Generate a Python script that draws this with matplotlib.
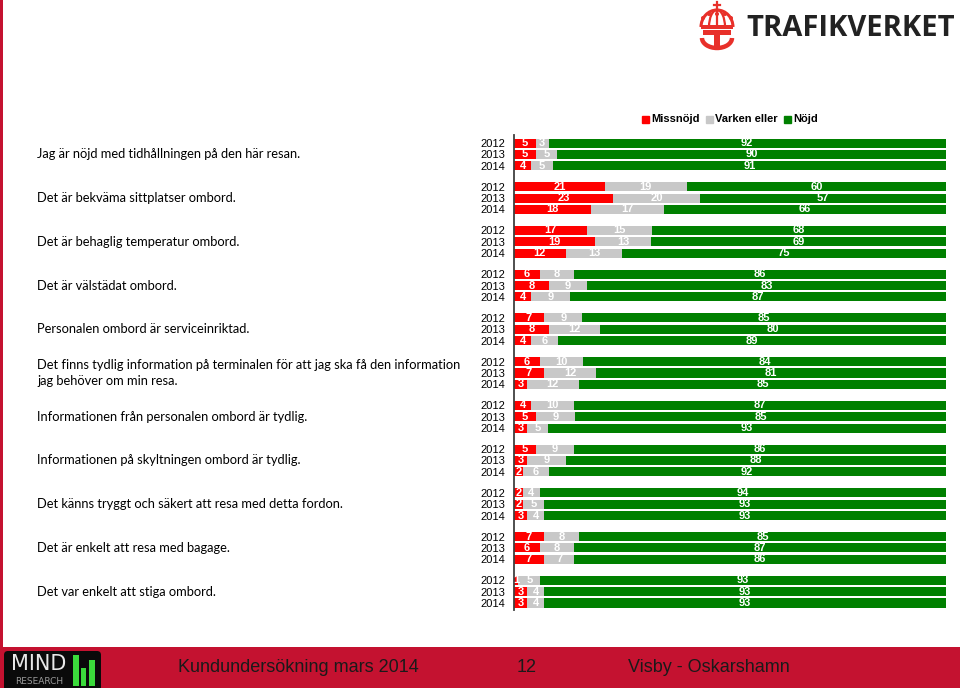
import matplotlib
matplotlib.use("Agg")
import matplotlib.pyplot as plt
import matplotlib.transforms as mtransforms
from matplotlib.patches import Rectangle, FancyBboxPatch, Arc, Circle

questions = [
    "Jag är nöjd med tidhållningen på den här resan.",
    "Det är bekväma sittplatser ombord.",
    "Det är behaglig temperatur ombord.",
    "Det är välstädat ombord.",
    "Personalen ombord är serviceinriktad.",
    "Det finns tydlig information på terminalen för att jag ska få den information\njag behöver om min resa.",
    "Informationen från personalen ombord är tydlig.",
    "Informationen på skyltningen ombord är tydlig.",
    "Det känns tryggt och säkert att resa med detta fordon.",
    "Det är enkelt att resa med bagage.",
    "Det var enkelt att stiga ombord.",
]
years = ["2012", "2013", "2014"]
series_names = ["Missnöjd", "Varken eller", "Nöjd"]
missnojd = [[5, 5, 4], [21, 23, 18], [17, 19, 12], [6, 8, 4], [7, 8, 4], [6, 7, 3],
            [4, 5, 3], [5, 3, 2], [2, 2, 3], [7, 6, 7], [1, 3, 3]]
varken = [[3, 5, 5], [19, 20, 17], [15, 13, 13], [8, 9, 9], [9, 12, 6], [10, 12, 12],
          [10, 9, 5], [9, 9, 6], [4, 5, 4], [8, 8, 7], [5, 4, 4]]
nojd = [[92, 90, 91], [60, 57, 66], [68, 69, 75], [86, 83, 87], [85, 80, 89], [84, 81, 85],
        [87, 85, 93], [86, 88, 92], [94, 93, 93], [85, 87, 86], [93, 93, 93]]

colors = ["#FF0000", "#C8C8C8", "#008000"]
CRIMSON = "#C41230"

W, H = 960, 688
fig = plt.figure(figsize=(W / 100, H / 100), dpi=100)

# ---- main bar axes ----
ax_left, ax_right, ax_top, ax_bot = 514, 946, 135, 610
ax = fig.add_axes([ax_left / W, 1 - ax_bot / H, (ax_right - ax_left) / W, (ax_bot - ax_top) / H])
GSTEP = 3.87
ypos, ylabels = [], []
for g in range(len(questions)):
    for j, yr in enumerate(years):
        y = g * GSTEP + j
        ypos.append(y)
        ylabels.append(yr)
        vals = [missnojd[g][j], varken[g][j], nojd[g][j]]
        tot = sum(vals)
        left = 0.0
        for v, c in zip(vals, colors):
            w = v / tot * 100
            ax.barh(y, w, left=left, height=0.8, color=c, edgecolor="none")
            ax.text(left + w / 2, y, str(v), ha="center", va="center", color="white",
                    fontsize=8, fontweight="bold", family="Liberation Sans")
            left += w

ax.set_xlim(0, 100)
ax.set_ylim(10 * GSTEP + 2 + 0.62, -0.71)
ax.set_yticks(ypos)
ax.set_yticklabels(ylabels, fontsize=8, family="Liberation Sans", color="black")
ax.tick_params(axis="y", length=0, pad=6)
ax.set_xticks([])
for s in ["top", "right", "bottom"]:
    ax.spines[s].set_visible(False)
ax.spines["left"].set_color("#404040")
ax.spines["left"].set_linewidth(1.3)

# question labels
trans = mtransforms.blended_transform_factory(fig.transFigure, ax.transData)
for g, q in enumerate(questions):
    ax.text(37 / W, g * GSTEP + 1.0, q, transform=trans, ha="left", va="center",
            fontsize=9.3, family="Lato", color="black", linespacing=1.45, clip_on=False)

# ---- overlay for decorations (pixel coordinates) ----
ov = fig.add_axes([0, 0, 1, 1], zorder=-1)
ov.set_xlim(0, W)
ov.set_ylim(H, 0)
ov.axis("off")

# legend
leg_items = [(642, 651), (706, 715), (784, 793)]
for (sx, tx), c, name in zip(leg_items, colors, series_names):
    ov.add_patch(Rectangle((sx, 116), 7, 7, color=c))
    ov.text(tx, 119.5, name, ha="left", va="center", fontsize=8, fontweight="bold",
            family="Liberation Sans", color="black")

# left border
ov.add_patch(Rectangle((0, 0), 3, 647, color=CRIMSON, lw=0))

# footer
ov.add_patch(Rectangle((0, 647), W, 41, color=CRIMSON, lw=0))
ov.add_patch(FancyBboxPatch((4, 651), 97, 40, boxstyle="round,pad=0,rounding_size=4",
                            color="#0A0A0A", lw=0))
ov.text(39, 664, "MIND", ha="center", va="center", fontsize=15, color="#E8E8E8",
        family="Liberation Sans Narrow")
ov.text(39, 681, "RESEARCH", ha="center", va="center", fontsize=6.5, color="#9A9A9A",
        family="Liberation Sans Narrow")
for x0, x1, yt in [(73, 79, 655), (81, 86, 668), (89, 95, 660)]:
    ov.add_patch(Rectangle((x0, yt), x1 - x0, 686 - yt, color="#3BDB3B", lw=0))
ov.text(178, 668, "Kundundersökning mars 2014", ha="left", va="center", fontsize=13,
        family="Liberation Sans", color="#1A1A1A")
ov.text(527, 667, "12", ha="center", va="center", fontsize=13,
        family="Liberation Sans", color="#1A1A1A")
ov.text(628, 667, "Visby - Oskarshamn", ha="left", va="center", fontsize=13,
        family="Liberation Sans", color="#1A1A1A")

# Trafikverket logo
ov.text(746, 29, "TRAFIKVERKET", ha="left", va="center", fontsize=21, fontweight="bold",
        family="Open Sans", color="#222222")
red = "#E8302A"
# crown
ov.add_patch(Arc((717, 27), 32, 34, theta1=180, theta2=360, color=red, lw=2.2))
ov.add_patch(Arc((717, 27), 16, 34, theta1=180, theta2=360, color=red, lw=1.6))
ov.plot([717, 717], [10, 27], color=red, lw=1.6)
ov.plot([717, 717], [2, 9], color=red, lw=1.6)
ov.plot([714, 720], [5, 5], color=red, lw=1.6)
for cx in [703, 709, 717, 725, 731]:
    ov.add_patch(Circle((cx, 18 if cx in (703, 731) else 14), 1.3, color=red))
ov.add_patch(Rectangle((701, 25), 32, 3.5, color=red, lw=0))
# T with anchor-like base
ov.add_patch(Rectangle((703, 30), 28, 4.5, color=red, lw=0))
ov.add_patch(Rectangle((714, 30), 6, 16, color=red, lw=0))
ov.add_patch(Arc((717, 38), 30, 20, theta1=0, theta2=180, color=red, lw=3.2))
fig.savefig("out.png", dpi=100)
